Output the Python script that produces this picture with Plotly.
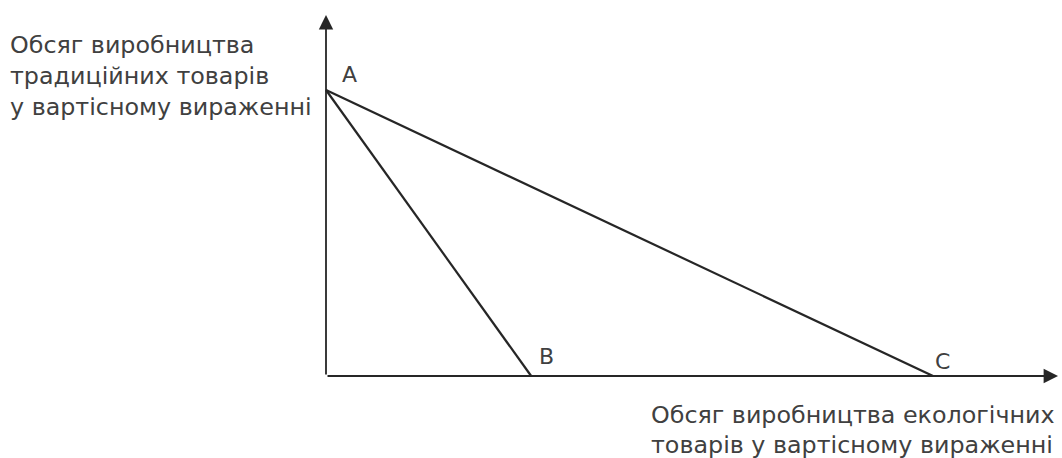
import plotly.graph_objects as go

# Data (arbitrary value units)
point_names = ["A", "B", "C"]
point_x = [0.0, 3.38, 10.0]
point_y = [10.0, 0.0, 0.0]
axis_x_end = 12.06
axis_y_end = 12.62
y_label_lines = ["Обсяг виробництва", "традиційних товарів", "у вартісному вираженні"]
x_label_lines = ["Обсяг виробництва екологічних", "товарів у вартісному вираженні"]

W, H = 1062, 458
ox, oy = 326, 376          # origin in pixels
sx = (933 - 326) / 10.0    # px per x unit
sy = (376 - 90) / 10.0     # px per y unit
xr = [-ox / sx, (W - ox) / sx]
yr = [-(H - oy) / sy, oy / sy]

line_col = "#262626"
text_col = "#404040"
fam = "DejaVu Sans, Verdana, sans-serif"
font = dict(family=fam, size=23.8, color=text_col)

fig = go.Figure()
for i in (1, 2):
    fig.add_trace(go.Scatter(x=[point_x[0], point_x[i]], y=[point_y[0], point_y[i]],
                             mode="lines", line=dict(color=line_col, width=2.2),
                             hoverinfo="skip", showlegend=False))

anns = []
anns.append(dict(x=axis_x_end, y=0, ax=0, ay=0, xref="x", yref="y", axref="x", ayref="y",
                 showarrow=True, arrowhead=2, arrowsize=1.6, arrowwidth=1.8,
                 arrowcolor=line_col, text=""))
anns.append(dict(x=0, y=axis_y_end, ax=0, ay=0, xref="x", yref="y", axref="x", ayref="y",
                 showarrow=True, arrowhead=2, arrowsize=1.6, arrowwidth=1.8,
                 arrowcolor=line_col, text=""))
offsets = {"A": (14, 16), "B": (6, 20), "C": (0, 15)}
for n, x, y in zip(point_names, point_x, point_y):
    dx, dy = offsets[n]
    anns.append(dict(x=x, y=y, xref="x", yref="y", text=n, showarrow=False,
                     xanchor="left", yanchor="middle", xshift=dx, yshift=dy,
                     font=dict(family=fam, size=22, color=text_col)))
for k, t in enumerate(y_label_lines):
    anns.append(dict(x=8 / W, y=1 - (45 + 31 * k) / H, xref="paper", yref="paper", text=t,
                     showarrow=False, xanchor="left", yanchor="middle", font=font))
for k, t in enumerate(x_label_lines):
    anns.append(dict(x=649 / W, y=1 - (415 + 30 * k) / H, xref="paper", yref="paper", text=t,
                     showarrow=False, xanchor="left", yanchor="middle", font=font))

fig.update_layout(width=W, height=H, margin=dict(l=0, r=0, t=0, b=0),
                  paper_bgcolor="white", plot_bgcolor="white",
                  xaxis=dict(range=xr, visible=False, fixedrange=True),
                  yaxis=dict(range=yr, visible=False, fixedrange=True),
                  annotations=anns, showlegend=False)
fig.write_html("out.html", config={"displayModeBar": False})

with open("out.html", encoding="utf-8") as f:
    html = f.read()
html = html.replace("<head>", "<head><style>html,body{margin:0;padding:0;overflow:hidden}</style>", 1)
with open("out.html", "w", encoding="utf-8") as f:
    f.write(html)
